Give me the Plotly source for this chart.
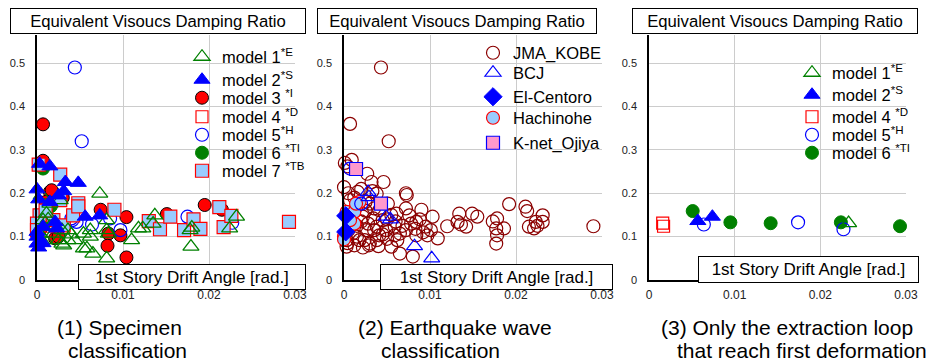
import plotly.graph_objects as go

W, H = 935, 364
FONT = "Liberation Sans, Arial, sans-serif"

# ---------------- data ----------------
X_TICKS = [0, 0.01, 0.02, 0.03]
X_TICK_TEXT = ["0", "0.01", "0.02", "0.03"]
Y_TICKS = [0, 0.1, 0.2, 0.3, 0.4, 0.5]
Y_TICK_TEXT = ["0", "0.1", "0.2", "0.3", "0.4", "0.5"]

# Panel (1) specimen classification
m1_x = [0.0005, 0.0007, 0.0007, 0.0009, 0.0011, 0.0015, 0.0015, 0.0019, 0.0025, 0.0027, 0.0029, 0.0029,
        0.0031, 0.0036, 0.0036, 0.0044, 0.0054, 0.0054, 0.0058, 0.0062, 0.0062, 0.0065, 0.0073, 0.0081,
        0.0081, 0.0081, 0.0083, 0.0110, 0.0118, 0.0123, 0.0135, 0.0137, 0.0178, 0.0179, 0.0180, 0.0224,
        0.0232, 0.0003, 0.0005, 0.0013, 0.0021, 0.0040]
m1_y = [0.195, 0.123, 0.138, 0.092, 0.153, 0.176, 0.123, 0.107, 0.092, 0.184, 0.084, 0.115,
        0.080, 0.092, 0.115, 0.092, 0.107, 0.073, 0.073, 0.100, 0.115, 0.061, 0.199, 0.138,
        0.115, 0.050, 0.107, 0.092, 0.119, 0.119, 0.130, 0.149, 0.115, 0.077, 0.121, 0.119,
        0.146, 0.107, 0.092, 0.140, 0.125, 0.105]
m2_x = [0.0003, 0.0015, 0.0048, 0.0033, 0.0031, 0.0025, 0.0000, 0.0002, 0.0015, 0.0073, 0.0056,
        0.0023, 0.0000, 0.0000, 0.0002, 0.0007, 0.0007, 0.0021, 0.0000]
m2_y = [0.268, 0.262, 0.224, 0.226, 0.205, 0.195, 0.209, 0.186, 0.180, 0.149, 0.146,
        0.119, 0.100, 0.084, 0.075, 0.123, 0.085, 0.134, 0.111]
m3_x = [0.0007, 0.0007, 0.0015, 0.0017, 0.0010, 0.0021, 0.0025, 0.0030, 0.0005, 0.0074, 0.0083,
        0.0082, 0.0097, 0.0104, 0.0104, 0.0151, 0.0195, 0.0215]
m3_y = [0.359, 0.275, 0.203, 0.207, 0.180, 0.096, 0.100, 0.190, 0.120, 0.162, 0.107,
        0.079, 0.103, 0.145, 0.052, 0.152, 0.173, 0.162]
m4_x = [0.0002, 0.0016, 0.0017]
m4_y = [0.130, 0.131, 0.124]
m5_x = [0.0044, 0.0052, 0.0040, 0.0046, 0.0041, 0.0085, 0.0097, 0.0175, 0.0227, 0.0064]
m5_y = [0.490, 0.320, 0.142, 0.134, 0.138, 0.142, 0.115, 0.146, 0.132, 0.128]
m6_x = [0.0007, 0.0016]
m6_y = [0.257, 0.170]
m7_x = [0.0002, 0.0027, 0.0048, 0.0027, 0.0003, 0.0019, 0.0000, 0.0000, 0.0031, 0.0042, 0.0090,
        0.0130, 0.0143, 0.0155, 0.0171, 0.0182, 0.0190, 0.0212, 0.0217, 0.0226, 0.0293, 0.0048, 0.0010]
m7_y = [0.266, 0.243, 0.177, 0.184, 0.149, 0.138, 0.130, 0.115, 0.126, 0.149, 0.162,
        0.136, 0.117, 0.146, 0.115, 0.140, 0.118, 0.168, 0.122, 0.148, 0.134, 0.170, 0.160]

# Panel (2) earthquake wave classification
kobe_x = [0.0007, 0.0043, 0.0052, 0.0001, 0.0009, 0.0004, 0.0027, 0.0032, 0.0046, 0.0000, 0.0016,
          0.0038, 0.0072, 0.0073, 0.0007, 0.0051, 0.0061, 0.0072, 0.0076, 0.0090, 0.0103, 0.0084,
          0.0095, 0.0097, 0.0109, 0.0084, 0.0080, 0.0065, 0.0055, 0.0041, 0.0030, 0.0018, 0.0003,
          0.0010, 0.0026, 0.0038, 0.0049, 0.0059, 0.0034, 0.0045, 0.0022, 0.0014, 0.0041, 0.0030,
          0.0007, 0.0059, 0.0065, 0.0029, 0.0024, 0.0038, 0.0003, 0.0101, 0.0120, 0.0134, 0.0132,
          0.0142, 0.0136, 0.0149, 0.0155, 0.0173, 0.0178, 0.0177, 0.0186, 0.0177, 0.0178, 0.0192,
          0.0211, 0.0213, 0.0231, 0.0215, 0.0221, 0.0225, 0.0231, 0.0223, 0.0290, 0.0012, 0.0020,
          0.0025, 0.0035, 0.0050, 0.0055, 0.0015, 0.0020, 0.0028, 0.0035, 0.0045, 0.0050, 0.0015,
          0.0005, 0.0008, 0.0025, 0.0060, 0.0068, 0.0072, 0.0078, 0.0088, 0.0092, 0.0005, 0.0033,
          0.0004, 0.0012, 0.0022, 0.0040, 0.0062, 0.0083]
kobe_y = [0.360, 0.490, 0.320, 0.270, 0.277, 0.262, 0.245, 0.226, 0.226, 0.214, 0.203,
          0.199, 0.200, 0.196, 0.184, 0.176, 0.153, 0.165, 0.149, 0.162, 0.146, 0.134,
          0.123, 0.103, 0.096, 0.103, 0.054, 0.061, 0.077, 0.103, 0.084, 0.092, 0.077,
          0.107, 0.115, 0.123, 0.115, 0.123, 0.142, 0.138, 0.146, 0.168, 0.161, 0.176,
          0.138, 0.103, 0.107, 0.080, 0.092, 0.092, 0.092, 0.115, 0.124, 0.153, 0.134,
          0.123, 0.128, 0.153, 0.146, 0.135, 0.142, 0.119, 0.119, 0.084, 0.103, 0.175,
          0.169, 0.159, 0.149, 0.123, 0.119, 0.125, 0.134, 0.134, 0.124, 0.190, 0.210,
          0.180, 0.165, 0.140, 0.150, 0.125, 0.135, 0.130, 0.115, 0.105, 0.095, 0.100,
          0.115, 0.155, 0.160, 0.135, 0.125, 0.115, 0.130, 0.140, 0.110, 0.200, 0.205,
          0.085, 0.080, 0.075, 0.078, 0.092, 0.118]
bcj_x = [0.0028, 0.0029, 0.0049, 0.0054, 0.0082, 0.0102]
bcj_y = [0.203, 0.191, 0.146, 0.140, 0.078, 0.050]
elc_x = [0.0002, 0.0002]
elc_y = [0.148, 0.111]
hachi_x = [0.0003, 0.0012, 0.0012, 0.0000, 0.0000, 0.0007, 0.0018, 0.0014]
hachi_y = [0.157, 0.157, 0.130, 0.100, 0.094, 0.138, 0.180, 0.176]
ojiya_x = [0.0014, 0.0043]
ojiya_y = [0.256, 0.176]
other_x = [0.0007, 0.0020]
other_y = [0.257, 0.176]

# Panel (3) extraction loops reaching first deformation
p3m1_x = [0.0233]
p3m1_y = [0.131]
p3m2_x = [0.0057, 0.0074]
p3m2_y = [0.136, 0.146]
p3m4_x = [0.0016, 0.0017]
p3m4_y = [0.131, 0.124]
p3m5_x = [0.0064, 0.0174, 0.0227]
p3m5_y = [0.128, 0.133, 0.117]
p3m6_x = [0.0051, 0.0095, 0.0142, 0.0224, 0.0293]
p3m6_y = [0.159, 0.133, 0.131, 0.133, 0.124]

# ---------------- styling ----------------
GREEN = "#008000"
BLUE = "#0000ff"
RED = "#ff0000"
DARKRED = "#8b0000"
LIGHTBLUE = "#99ccff"
PINK = "#ff99cc"
NONE = "rgba(0,0,0,0)"
GRID = "#cccccc"

fig = go.Figure()
legend_layouts = {}
legend_count = [0]


def add(panel, x, y, name, symbol, size, line_color, fill, lw, leg_pos=None):
    s = "" if panel == 1 else str(panel)
    kw = dict(x=x, y=y, mode="markers", name=name, cliponaxis=False,
              xaxis="x" + s, yaxis="y" + s, hoverinfo="skip",
              marker=dict(symbol=symbol, size=size, color=fill,
                          line=dict(color=line_color, width=lw)))
    if leg_pos is None:
        kw["showlegend"] = False
    else:
        legend_count[0] += 1
        n = legend_count[0]
        lid = "legend" if n == 1 else f"legend{n}"
        kw["legend"] = lid
        kw["showlegend"] = True
        legend_layouts[lid] = dict(
            x=(leg_pos[0] - 20) / W, y=1 - leg_pos[1] / H,
            xanchor="left", yanchor="middle", bgcolor=NONE, borderwidth=0,
            font=dict(family=FONT, size=16.5, color="black"),
            itemclick=False, itemdoubleclick=False, tracegroupgap=0)
    fig.add_trace(go.Scatter(**kw))


# Panel 1 (drawing order bottom -> top)
L1x = 202
add(1, m6_x, m6_y, "model 6 <sup>*TI</sup>", "circle", 13, GREEN, GREEN, 1, (L1x, 153))
add(1, m3_x, m3_y, "model 3 <sup>*I</sup>", "circle", 13, "black", RED, 1, (L1x, 98))
add(1, m4_x, m4_y, "model 4 <sup>*D</sup>", "square", 12, RED, NONE, 1.2, (L1x, 117))
add(1, m5_x, m5_y, "model 5<sup>*H</sup>", "circle", 13, BLUE, NONE, 1.2, (L1x, 135))
add(1, m7_x, m7_y, "model 7 <sup>*TB</sup>", "square", 13, RED, LIGHTBLUE, 1.2, (L1x, 171))
add(1, m1_x, m1_y, "model 1<sup>*E</sup>", "triangle-up", 14, GREEN, NONE, 1.3, (L1x, 57))
add(1, m2_x, m2_y, "model 2<sup>*S</sup>", "triangle-up", 14, BLUE, BLUE, 1, (L1x, 80))

# Panel 2
L2x = 493
add(2, kobe_x, kobe_y, "JMA_KOBE", "circle", 13, DARKRED, NONE, 1.2, (L2x, 53))
add(2, hachi_x, hachi_y, "Hachinohe", "circle", 13, RED, LIGHTBLUE, 1.2, (L2x, 118))
add(2, other_x, other_y, "", "circle", 13, BLUE, NONE, 1.2)
add(2, elc_x, elc_y, "El-Centoro", "diamond", 14, BLUE, BLUE, 1, (L2x, 97))
add(2, bcj_x, bcj_y, "BCJ", "triangle-up", 14, BLUE, NONE, 1.2, (L2x, 73))
add(2, ojiya_x, ojiya_y, "K-net_Ojiya", "square", 13, BLUE, PINK, 1.2, (L2x, 143))

# Panel 3
L3x = 812
add(3, p3m6_x, p3m6_y, "model 6 <sup>*TI</sup>", "circle", 13, GREEN, GREEN, 1, (L3x, 153))
add(3, p3m4_x, p3m4_y, "model 4 <sup>*D</sup>", "square", 12, RED, NONE, 1.2, (L3x, 117))
add(3, p3m2_x, p3m2_y, "model 2<sup>*S</sup>", "triangle-up", 14, BLUE, BLUE, 1, (L3x, 95))
add(3, p3m5_x, p3m5_y, "model 5<sup>*H</sup>", "circle", 13, BLUE, NONE, 1.2, (L3x, 135))
add(3, p3m1_x, p3m1_y, "model 1<sup>*E</sup>", "triangle-up", 14, GREEN, NONE, 1.3, (L3x, 73))

# ---------------- layout ----------------
panels = [(37, 295), (344, 602), (649, 906)]
Y_TOP, Y_BOT = 35, 280
layout = dict(
    width=W, height=H, margin=dict(l=0, r=0, t=0, b=0, autoexpand=False),
    paper_bgcolor="white", plot_bgcolor="white",
    font=dict(family=FONT, color="black"),
)
for i, (x0, x1) in enumerate(panels, start=1):
    s = "" if i == 1 else str(i)
    layout["xaxis" + s] = dict(
        domain=[x0 / W, x1 / W], range=[0, 0.03], anchor="y" + s, automargin=False,
        tickvals=X_TICKS, ticktext=X_TICK_TEXT, showgrid=True, gridcolor=GRID, gridwidth=1,
        zeroline=False, showline=True, linecolor="black", linewidth=1.5, ticks="",
        tickfont=dict(family=FONT, size=12, color="#222222"), ticklabelstandoff=3,
        fixedrange=True)
    layout["yaxis" + s] = dict(
        domain=[1 - Y_BOT / H, 1 - Y_TOP / H], range=[0, 0.565], anchor="x" + s, automargin=False,
        tickvals=Y_TICKS, ticktext=Y_TICK_TEXT, showgrid=True, gridcolor=GRID, gridwidth=1,
        zeroline=False, showline=True, linecolor="black", linewidth=1.5, ticks="",
        tickfont=dict(family=FONT, size=11, color="#222222"), ticklabelstandoff=8,
        fixedrange=True)
layout.update(legend_layouts)

annotations = []


def box(x0, x1, y0, y1, text, size):
    annotations.append(dict(
        xref="paper", yref="paper", x=(x0 + x1) / 2 / W, y=1 - (y0 + y1) / 2 / H,
        xanchor="center", yanchor="middle", text=text, showarrow=False,
        width=x1 - x0 - 2, height=y1 - y0 - 2, align="center", valign="middle",
        bgcolor="white", bordercolor="black", borderwidth=1, borderpad=0,
        font=dict(family=FONT, size=size, color="black")))


def caption(x, y, text):
    annotations.append(dict(
        xref="paper", yref="paper", x=x / W, y=1 - y / H, xanchor="left", yanchor="middle",
        text=text, showarrow=False, font=dict(family=FONT, size=21, color="black")))


YTITLE = "Equivalent Visoucs Damping Ratio"
XTITLE = "1st Story Drift Angle [rad.]"
box(10, 306, 8, 34, YTITLE, 16.7)
box(317, 597, 8, 34, YTITLE, 16.7)
box(632, 918, 8, 34, YTITLE, 16.7)
box(78, 306, 264, 290, XTITLE, 17)
box(380, 613, 264, 290, XTITLE, 17)
box(698, 919, 256, 283, XTITLE, 17)

caption(55, 327, "(1) Specimen")
caption(66, 350, "classification")
caption(356, 327, "(2) Earthquake wave")
caption(379, 350, "classification")
caption(659, 327, "(3) Only the extraction loop")
caption(675, 350, "that reach first deformation")

layout["annotations"] = annotations
fig.update_layout(**layout)
fig.write_html("out.html")
